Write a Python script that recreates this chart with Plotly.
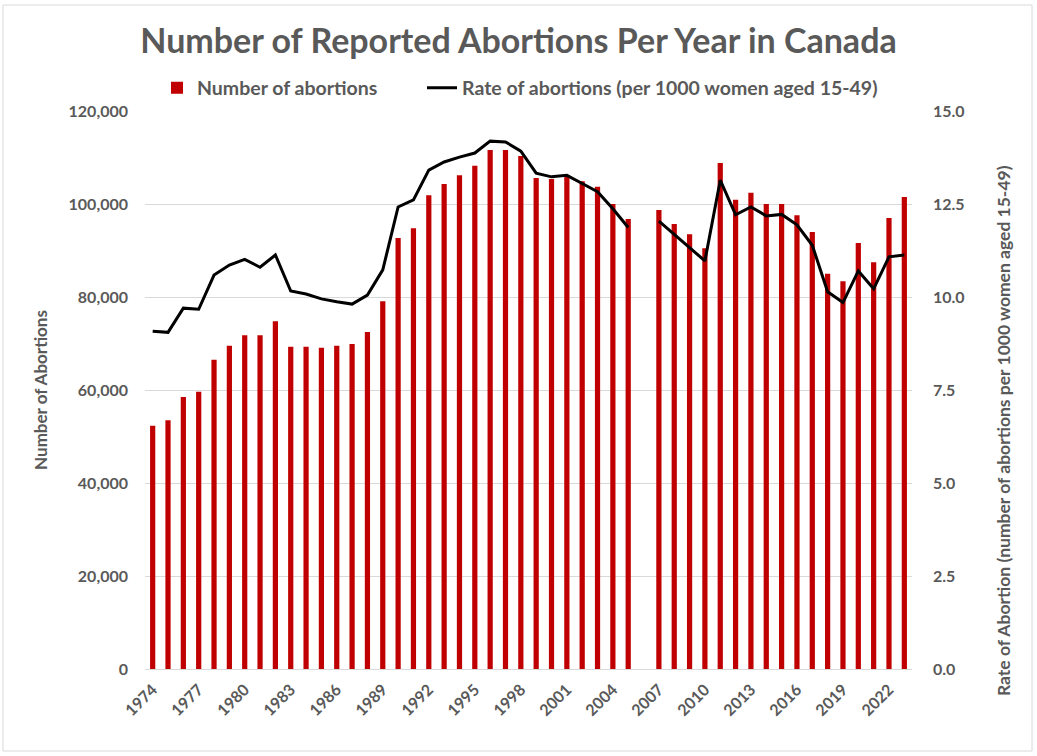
import plotly.graph_objects as go

years = [str(y) for y in range(1974, 2024)]

abortions = [52300, 53500, 58500, 59600, 66500, 69500, 71800, 71800, 74800, 69300,
             69300, 69100, 69500, 69900, 72500, 79100, 92700, 94800, 101900, 104300,
             106200, 108200, 111600, 111600, 110300, 105600, 105400, 105800, 104900, 103700,
             100000, 96800, None, 98700, 95700, 93500, 90500, 108800, 100900, 102400,
             100000, 100000, 97600, 94000, 85000, 83400, 91600, 87500, 97000, 101500]

rate = [9.08, 9.05, 9.70, 9.67, 10.59, 10.86, 11.01, 10.80, 11.13, 10.16,
        10.08, 9.95, 9.87, 9.81, 10.05, 10.73, 12.42, 12.61, 13.41, 13.63,
        13.76, 13.87, 14.19, 14.17, 13.92, 13.33, 13.23, 13.27, 13.05, 12.83,
        12.37, 11.87, None, 12.04, 11.68, 11.34, 10.97, 13.14, 12.21, 12.42,
        12.18, 12.22, 11.94, 11.39, 10.14, 9.85, 10.70, 10.22, 11.08, 11.13]

tick_years = [str(y) for y in range(1974, 2024, 3)]
left_ticks = [0, 20000, 40000, 60000, 80000, 100000, 120000]
right_ticks = [0, 2.5, 5.0, 7.5, 10.0, 12.5, 15.0]

W, H = 1037, 756
L, R, T, B = 145, 125, 111, 87
FONT = "Lato"
GREY = "#595959"

fig = go.Figure()
fig.add_trace(go.Bar(x=years, y=abortions, name="Number of abortions",
                     marker=dict(color="#c00000", line=dict(width=0)),
                     legend="legend"))
fig.add_trace(go.Scatter(x=years, y=rate, name="Rate of abortions (per 1000 women aged 15-49)",
                         mode="lines", line=dict(color="black", width=3),
                         connectgaps=False, yaxis="y2", legend="legend2"))

pw = W - L - R
ph = H - T - B
def px2x(p):
    return (p - L) / pw
def py2y(p):
    return (H - B - p) / ph

legend_font = dict(size=19.5, color=GREY, family=FONT, weight="bold")

fig.update_layout(
    width=W, height=H,
    margin=dict(l=L, r=R, t=T, b=B),
    paper_bgcolor="white", plot_bgcolor="white",
    font=dict(family=FONT, color=GREY),
    title=dict(text="Number of Reported Abortions Per Year in Canada",
               x=0.5, xanchor="center", xref="container",
               y=1 - 41 / H, yanchor="middle", yref="container",
               font=dict(size=34, color=GREY, family=FONT, weight="bold")),
    legend=dict(orientation="h", x=px2x(157), xanchor="left",
                y=py2y(88), yanchor="middle", font=legend_font,
                itemwidth=30, bgcolor="rgba(0,0,0,0)"),
    legend2=dict(orientation="h", x=px2x(422), xanchor="left",
                 y=py2y(88), yanchor="middle", font=legend_font,
                 itemwidth=30, bgcolor="rgba(0,0,0,0)"),
    bargap=0.66,
    showlegend=True,
    xaxis=dict(type="category", categoryorder="array", categoryarray=years,
               tickmode="array", tickvals=tick_years, ticktext=tick_years,
               tickangle=-45, showgrid=False, showline=True, linecolor="#d9d9d9",
               linewidth=1, ticks="", ticklabelstandoff=4,
               tickfont=dict(size=16, color=GREY, family=FONT, weight="bold")),
    yaxis=dict(range=[0, 120000], tickmode="array", tickvals=left_ticks,
               tickformat=",", showgrid=True, gridcolor="#d9d9d9", gridwidth=1,
               zeroline=False, ticks="", ticklabelstandoff=16,
               tickfont=dict(size=16, color=GREY, family=FONT, weight="bold"),
               title=dict(text="Number of Abortions", standoff=16,
                          font=dict(size=17, color=GREY, family=FONT, weight="bold"))),
    yaxis2=dict(range=[0, 15], overlaying="y", side="right", tickmode="array",
                tickvals=right_ticks, tickformat=".1f", showgrid=False,
                zeroline=False, ticks="", ticklabelstandoff=20,
                tickfont=dict(size=16, color=GREY, family=FONT, weight="bold")),
)

fig.add_annotation(text="Rate of Abortion (number of abortions per 1000 women aged 15-49)",
                   xref="paper", yref="paper", x=px2x(1003), y=py2y(430),
                   xanchor="center", yanchor="middle", textangle=-90, showarrow=False,
                   font=dict(size=17.5, color=GREY, family=FONT, weight="bold"))

fig.add_shape(type="rect", xref="paper", yref="paper",
              x0=px2x(3), x1=px2x(1032), y0=py2y(751), y1=py2y(5),
              line=dict(color="#d9d9d9", width=1), fillcolor="rgba(0,0,0,0)", layer="below")

fig.write_html("out.html", config={"displayModeBar": False},
               post_script="document.body.style.margin='0';document.body.style.padding='0';")
